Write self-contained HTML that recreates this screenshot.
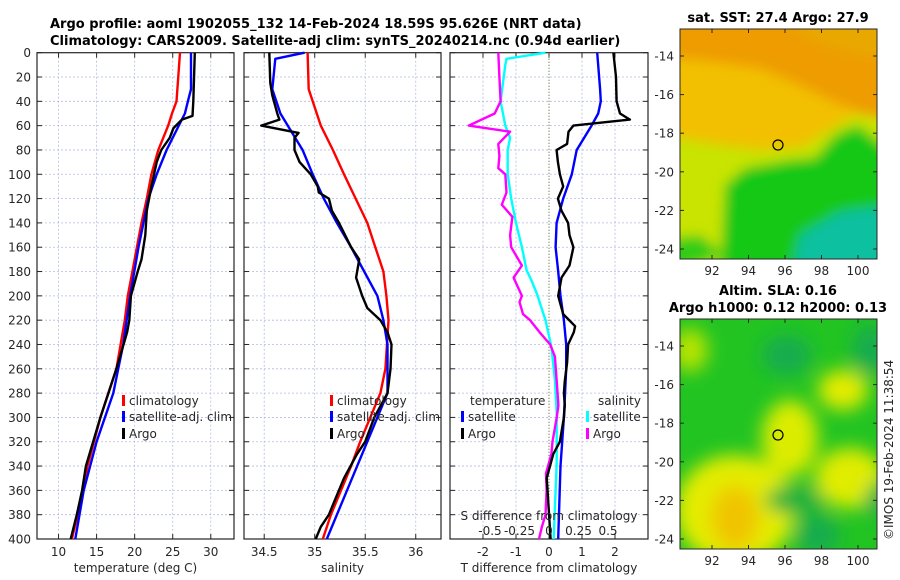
<!DOCTYPE html>
<html><head><meta charset="utf-8">
<style>
body{margin:0;background:#fff;}
svg{display:block;font-family:"DejaVu Sans","Liberation Sans",sans-serif;}
.t{font-size:12px;fill:#262626;}
.b{font-size:13px;font-weight:bold;fill:#000;}
</style></head>
<body>
<svg id="fig" width="900" height="580" viewBox="0 0 900 580" xmlns="http://www.w3.org/2000/svg">
<defs>
<filter id="blur1" x="-20%" y="-20%" width="140%" height="140%"><feGaussianBlur stdDeviation="6"/></filter>
<filter id="blur2" x="-50%" y="-50%" width="200%" height="200%"><feGaussianBlur stdDeviation="9"/></filter>
<clipPath id="m1clip"><rect x="680" y="29" width="197" height="230"/></clipPath>
<clipPath id="m2clip"><rect x="680" y="319" width="197" height="230"/></clipPath>
</defs>
<text class="b" x="50" y="28">Argo profile: aoml 1902055_132 14-Feb-2024 18.59S 95.626E (NRT data)</text>
<text class="b" x="50" y="45">Climatology: CARS2009. Satellite-adj clim: synTS_20240214.nc (0.94d earlier)</text>

<!-- SST map -->
<g>
<text class="b" x="778" y="22" text-anchor="middle">sat. SST: 27.4 Argo: 27.9</text>
<g clip-path="url(#m1clip)">
<rect x="670" y="20" width="220" height="250" fill="#f2c000"/>
<g filter="url(#blur1)">
<polygon fill="#ee9c00" points="660,10 890,10 890,135 860,112 830,100 800,85 760,68 700,60 660,58"/>
<polygon fill="#e8a800" points="790,10 890,10 890,60 840,50 800,35"/>
<polygon fill="#c8e400" points="660,135 720,145 760,150 800,148 830,130 855,115 890,118 890,280 660,280"/>
<polygon fill="#14c814" points="725,185 745,168 790,160 815,158 835,135 858,125 890,150 890,280 720,280"/>
<polygon fill="#30cc18" points="660,240 700,235 725,255 660,280"/>
<polygon fill="#10c0a0" points="790,280 800,235 840,212 890,205 890,280"/>
</g>
</g>
<rect x="680" y="29" width="197" height="230" fill="none" stroke="#262626" stroke-width="1"/>
<circle cx="778" cy="145" r="5" fill="none" stroke="#000" stroke-width="1.2"/>
</g>

<!-- SLA map -->
<g>
<text class="b" x="778" y="295" text-anchor="middle">Altim. SLA: 0.16</text>
<text class="b" x="778" y="312" text-anchor="middle">Argo h1000: 0.12 h2000: 0.13</text>
<g clip-path="url(#m2clip)">
<rect x="670" y="310" width="220" height="250" fill="#22c422"/>
<g filter="url(#blur2)">
<ellipse cx="735" cy="510" rx="60" ry="55" fill="#e4ec00"/>
<ellipse cx="735" cy="518" rx="24" ry="32" fill="#f0c400"/>
<ellipse cx="790" cy="438" rx="28" ry="38" fill="#dcec00"/>
<ellipse cx="843" cy="390" rx="25" ry="20" fill="#e4ec00"/>
<ellipse cx="850" cy="478" rx="35" ry="30" fill="#e0ec00"/>
<ellipse cx="690" cy="350" rx="18" ry="22" fill="#b8e400"/>
<ellipse cx="795" cy="500" rx="30" ry="14" fill="#18b040"/>
<ellipse cx="787" cy="355" rx="25" ry="20" fill="#14ac50"/>
<ellipse cx="870" cy="350" rx="18" ry="25" fill="#14ac50"/>
<ellipse cx="818" cy="535" rx="22" ry="20" fill="#14ac50"/>
<ellipse cx="878" cy="500" rx="12" ry="18" fill="#14ac50"/>
</g>
</g>
<rect x="680" y="319" width="197" height="230" fill="none" stroke="#262626" stroke-width="1"/>
<circle cx="778" cy="435" r="5" fill="none" stroke="#000" stroke-width="1.2"/>
</g>
<text class="t" transform="translate(893,540) rotate(-90)" font-size="13">©IMOS 19-Feb-2024 11:38:54</text>
<g id="dyn"></g>
</svg>
<script>
// ---- data ----
var depthTicks=[0,20,40,60,80,100,120,140,160,180,200,220,240,260,280,300,320,340,360,380,400];
var tTicks=[10,15,20,25,30];
var sTicks=[34.5,35,35.5,36];
var dtTicks=[-2,-1,0,1,2];
var dsTicks=[-0.5,-0.25,0,0.25,0.5];
var dsTickLabels=["-0.5","-0.25","0","0.25","0.5"];
var lonTicks=[92,94,96,98,100];
var latTicks=[-14,-16,-18,-20,-22,-24];

var tClimDepth=[0,40,50,60,80,100,120,140,160,180,200,220,260,300,340,380,400];
var tClim=[25.95,25.5,24.9,24.4,23.1,22.2,21.6,20.9,20.3,19.7,19.1,18.7,17.6,15.5,13.8,12.5,11.75];
var tSatDepth=[0,30,40,50,60,80,100,120,160,200,240,280,320,360,400];
var tSat=[27.4,27.4,27.0,26.6,25.8,24.2,22.9,21.8,20.5,19.4,18.5,17.2,15.0,13.3,12.2];
var tArgoDepth=[0,40,52,55,62,70,80,90,110,130,150,170,180,200,220,230,260,300,340,360,380,400];
var tArgo=[27.9,27.7,27.6,26.2,25.1,24.6,23.5,22.9,22.2,21.6,21.4,20.9,20.4,19.5,19.3,19.0,17.6,15.5,13.6,13.1,12.4,11.6];

var sClimDepth=[0,30,40,60,80,100,140,160,180,200,220,260,280,300,320,340,360,380,400];
var sClim=[34.93,34.94,34.98,35.06,35.18,35.29,35.52,35.60,35.68,35.71,35.73,35.70,35.65,35.55,35.45,35.36,35.26,35.16,35.08];
var sSatDepth=[0,5,30,50,80,100,120,140,160,180,200,220,240,280,320,360,400];
var sSat=[34.90,34.61,34.58,34.66,34.88,34.98,35.09,35.22,35.36,35.49,35.62,35.68,35.72,35.72,35.52,35.32,35.12];
var sArgoDepth=[0,25,35,50,55,60,66,70,80,90,100,110,115,120,130,140,160,170,175,185,200,210,220,230,240,260,280,300,320,330,350,370,380,390,400];
var sArgo=[34.55,34.56,34.58,34.63,34.65,34.47,34.84,34.80,34.80,34.85,34.96,35.03,35.04,35.14,35.17,35.24,35.36,35.44,35.43,35.41,35.47,35.52,35.65,35.72,35.76,35.75,35.72,35.59,35.50,35.42,35.29,35.19,35.14,35.06,35.01];

var dsSatDepth=[0,5,10,40,60,70,80,100,120,140,160,179,187,199,220,242,269,296,337,400];
var dsSat=[-0.03,-0.36,-0.37,-0.41,-0.37,-0.33,-0.35,-0.35,-0.32,-0.28,-0.23,-0.19,-0.15,-0.10,-0.03,0.02,0.05,0.065,0.065,0.04];
var dsArgoDepth=[0,20,40,50,60,65,75,85,95,100,115,125,135,150,160,175,185,200,205,215,220,230,240,250,270,290,300,320,330,346,360,380,390,400];
var dsArgo=[-0.43,-0.42,-0.41,-0.46,-0.68,-0.33,-0.43,-0.42,-0.43,-0.37,-0.36,-0.40,-0.31,-0.33,-0.32,-0.23,-0.30,-0.23,-0.25,-0.22,-0.16,-0.08,0.01,0.05,0.065,0.08,0.065,0.03,0.02,-0.025,-0.02,-0.03,-0.06,-0.085];
var dtSatDepth=[0,30,40,50,60,80,100,120,140,160,180,200,220,240,260,300,340,400];
var dtSat=[1.46,1.55,1.57,1.49,1.29,0.84,0.69,0.43,0.23,0.20,0.28,0.35,0.45,0.52,0.52,0.45,0.35,0.28];
var dtArgoDepth=[0,20,40,50,55,60,65,75,80,90,100,110,120,130,140,150,160,175,185,200,215,225,230,240,255,270,280,290,300,320,330,340,350,370,400];
var dtArgo=[1.95,2.03,2.05,2.15,2.45,0.74,0.59,0.55,0.23,0.27,0.33,0.43,0.27,0.38,0.58,0.62,0.74,0.62,0.38,0.28,0.43,0.79,0.75,0.58,0.55,0.48,0.45,0.48,0.45,0.33,0.13,0.03,-0.07,-0.02,0.05];

// ---- axes ----
var Y0=52.7,Y1=539;
function yD(d){return Y0+(d/400)*(Y1-Y0);}
function lin(d0,d1,p0,p1){return function(v){return p0+(v-d0)/(d1-d0)*(p1-p0);};}
var P1={x0:37,x1:234};var P2={x0:244,x1:441};var P3={x0:450,x1:648};
var xT=lin(7.17,33.05,P1.x0,P1.x1);
var xS=lin(34.30,36.25,P2.x0,P2.x1);
var xDT=lin(-3,3,P3.x0,P3.x1);
var xDS=function(v){return 549+v*118;};
var xLon1=lin(92,100,712,858), yLat1=lin(-14,-24,56,249), yLat2=lin(-14,-24,346,539);

var NS="http://www.w3.org/2000/svg";var dyn=document.getElementById('dyn');
function mk(tag,attrs,parent){var e=document.createElementNS(NS,tag);for(var k in attrs)e.setAttribute(k,attrs[k]);(parent||dyn).appendChild(e);return e;}
function txt(s,attrs){var e=mk('text',attrs);e.textContent=s;return e;}

function panel(P,xf,xt,xlab,name){
  var g=mk('g',{});
  
  
  depthTicks.forEach(function(d){
    if(d>0&&d<400){var l=mk('line',{x1:P.x0,x2:P.x1,y1:yD(d),y2:yD(d),stroke:'#b4bce0','stroke-width':0.8,'stroke-dasharray':'2,2'},g);
    
    }
    mk('line',{x1:P.x0,x2:P.x0+5,y1:yD(d),y2:yD(d),stroke:'#262626'},g);
    mk('line',{x1:P.x1-5,x2:P.x1,y1:yD(d),y2:yD(d),stroke:'#262626'},g);
  });
  xt.forEach(function(v){
    var x=xf(v);
    if(v!==0||name!=='diff-panel'){var l=mk('line',{x1:x,x2:x,y1:Y0,y2:Y1,stroke:'#b4bce0','stroke-width':0.8,'stroke-dasharray':'2,2'},g);
    
    }
    mk('line',{x1:x,x2:x,y1:Y1,y2:Y1-5,stroke:'#262626'},g);
    mk('line',{x1:x,x2:x,y1:Y0,y2:Y0+5,stroke:'#262626'},g);
    var t=txt(String(v),{x:x,y:556,'text-anchor':'middle','class':'t'});
    
    
  });
  var r=mk('rect',{x:P.x0,y:Y0,width:P.x1-P.x0,height:Y1-Y0,fill:'none',stroke:'#262626','stroke-width':1.2},g);
  
  
  var t=txt(xlab,{x:(P.x0+P.x1)/2,y:572,'text-anchor':'middle','class':'t','font-size':'13'});
  
  
}
panel(P1,xT,tTicks,'temperature (deg C)','temperature-panel');
panel(P2,xS,sTicks,'salinity','salinity-panel');
panel(P3,xDT,dtTicks,'T difference from climatology','diff-panel');
depthTicks.forEach(function(d){
  var t=txt(String(d),{x:31,y:yD(d)+4.5,'text-anchor':'end','class':'t'});
  
  
});
var zl=mk('line',{x1:xDT(0),x2:xDT(0),y1:Y0,y2:Y1,stroke:'#4a5a2a','stroke-width':1,'stroke-dasharray':'1,2'});



function series(depths,vals,xf,color,name){
  var pts=depths.map(function(d,i){return xf(vals[i]).toFixed(1)+','+yD(d).toFixed(1);}).join(' ');
  var p=mk('polyline',{points:pts,fill:'none',stroke:color,'stroke-width':2.4,'stroke-linejoin':'round'});
  
  
}
series(tClimDepth,tClim,xT,'#ff0000','temp-climatology-line');
series(tSatDepth,tSat,xT,'#0000ff','temp-satellite-line');
series(tArgoDepth,tArgo,xT,'#000000','temp-argo-line');
series(sClimDepth,sClim,xS,'#ff0000','sal-climatology-line');
series(sSatDepth,sSat,xS,'#0000ff','sal-satellite-line');
series(sArgoDepth,sArgo,xS,'#000000','sal-argo-line');
series(dsSatDepth,dsSat,xDS,'#00ffff','sdiff-satellite-line');
series(dsArgoDepth,dsArgo,xDS,'#ff00ff','sdiff-argo-line');
series(dtSatDepth,dtSat,xDT,'#0000ff','tdiff-satellite-line');
series(dtArgoDepth,dtArgo,xDT,'#000000','tdiff-argo-line');

var st=txt('S difference from climatology',{x:549,y:520,'text-anchor':'middle','class':'t','font-size':'13'});


dsTicks.forEach(function(v,i){
  var t=txt(dsTickLabels[i],{x:xDS(v),y:535,'text-anchor':'middle','class':'t'});
  
  
});

function legend(x,y,color,label,name){
  var m=mk('rect',{x:x,y:y-10,width:3,height:11,fill:color});
  
  
  var t=txt(label,{x:x+7,y:y,'class':'t','font-size':'13'});
  
  
}
legend(122,405,'#ff0000','climatology','legend-temp-climatology');
legend(122,421,'#0000ff','satellite-adj. clim','legend-temp-satellite');
legend(122,438,'#000000','Argo','legend-temp-argo');
legend(330,405,'#ff0000','climatology','legend-sal-climatology');
legend(330,421,'#0000ff','satellite-adj. clim','legend-sal-satellite');
legend(330,438,'#000000','Argo','legend-sal-argo');
var lt=txt('temperature',{x:470,y:405,'class':'t','font-size':'13'});


var ls=txt('salinity',{x:641,y:405,'text-anchor':'end','class':'t','font-size':'13'});


legend(461,421,'#0000ff','satellite','legend-tdiff-satellite');
legend(461,438,'#000000','Argo','legend-tdiff-argo');
legend(586,421,'#00ffff','satellite','legend-sdiff-satellite');
legend(586,438,'#ff00ff','Argo','legend-sdiff-argo');

function mapTicks(top,bot,yLat,tag){
  lonTicks.forEach(function(v){
    var x=xLon1(v);
    mk('line',{x1:x,x2:x,y1:bot,y2:bot-4,stroke:'#262626'});
    mk('line',{x1:x,x2:x,y1:top,y2:top+4,stroke:'#262626'});
    var t=txt(String(v),{x:x,y:bot+16,'text-anchor':'middle','class':'t'});
    
    
  });
  latTicks.forEach(function(v){
    var y=yLat(v);
    mk('line',{x1:680,x2:684,y1:y,y2:y,stroke:'#262626'});
    mk('line',{x1:873,x2:877,y1:y,y2:y,stroke:'#262626'});
    var t=txt(String(v),{x:674,y:y+4.5,'text-anchor':'end','class':'t'});
    
    
  });
}
mapTicks(29,259,yLat1,'sst-map');
mapTicks(319,549,yLat2,'sla-map');
</script>
</body></html>
